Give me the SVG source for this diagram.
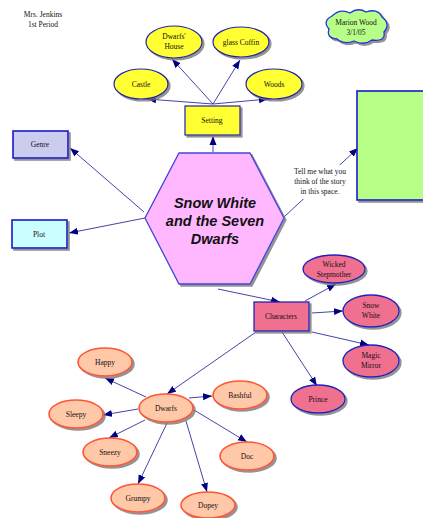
<svg xmlns="http://www.w3.org/2000/svg" width="423" height="518" viewBox="0 0 423 518">
<style>
.t{font-family:"Liberation Serif",serif;font-size:7.5px;fill:#111;text-anchor:middle}
.yel{fill:#ffff33;stroke:#2222aa;stroke-width:1.2}
.pink{fill:#f07090;stroke:#2222bb;stroke-width:1.3}
.org{fill:#ffc8a8;stroke:#ff5533;stroke-width:1.6}
.box{stroke:#1a1acc;stroke-width:1.6}
.c line{stroke:#4444aa;stroke-width:1;marker-end:url(#ah)}
</style>
<defs>
<marker id="ah" markerUnits="userSpaceOnUse" markerWidth="10" markerHeight="8" refX="9" refY="4" orient="auto">
<path d="M0,0.5 L9,4 L0,7.5 Z" fill="#000080"/>
</marker>
<filter id="sd" x="-20%" y="-20%" width="150%" height="150%">
<feDropShadow dx="2" dy="2" stdDeviation="0.7" flood-color="#777" flood-opacity="0.8"/>
</filter>
</defs>
<rect width="423" height="518" fill="#fff"/>
<g id="teacher"><text class="t" x="43" y="17">Mrs. Jenkins</text><text class="t" x="43" y="27">1st Period</text></g>

<g class="c" id="connectors">
<line x1="213" y1="104" x2="147" y2="99"/>
<line x1="213" y1="104" x2="172" y2="59"/>
<line x1="213" y1="104" x2="240" y2="60"/>
<line x1="213" y1="104" x2="268" y2="99"/>
<line x1="213" y1="152" x2="213" y2="136"/>
<line x1="144" y1="212" x2="70" y2="148"/>
<line x1="145" y1="218" x2="69" y2="233"/>
<line x1="284" y1="217" x2="358" y2="148"/>
<line x1="218" y1="289" x2="280" y2="302"/>
<line x1="305" y1="301" x2="336" y2="284"/>
<line x1="312" y1="313" x2="343" y2="311"/>
<line x1="312" y1="332" x2="369" y2="345"/>
<line x1="282" y1="332" x2="317" y2="386"/>
<line x1="256" y1="332" x2="167" y2="394"/>
<line x1="146" y1="397" x2="105" y2="378"/>
<line x1="138" y1="409" x2="103" y2="415"/>
<line x1="145" y1="420" x2="109" y2="438"/>
<line x1="167" y1="423" x2="138" y2="484"/>
<line x1="186" y1="421" x2="207" y2="492"/>
<line x1="194" y1="410" x2="247" y2="442"/>
<line x1="189" y1="398" x2="212" y2="396"/>
</g>

<g id="comment"><rect x="288" y="165" width="64" height="34" fill="#fff"/>
<text class="t" x="320" y="174">Tell me what you</text>
<text class="t" x="320" y="184">think of the story</text>
<text class="t" x="320" y="194">in this space.</text></g>

<g id="marion"><path filter="url(#sd)" d="M332,16 Q340,8 350,13 Q358,7 366,12 Q378,8 382,17 Q391,24 384,32 Q386,42 372,40 Q364,46 354,41 Q344,45 337,39 Q326,38 329,29 Q322,21 332,16 Z" fill="#b8ff88" stroke="#2233dd" stroke-width="1.3"/>
<text class="t" x="356" y="25" font-size="8.5">Marion Wood</text><text class="t" x="356" y="35">3/1/05</text></g>

<g id="castle"><ellipse class="yel" filter="url(#sd)" cx="141" cy="84" rx="27" ry="15"/><text class="t" x="141" y="86.5">Castle</text></g>
<g id="dwarfs-house"><ellipse class="yel" filter="url(#sd)" cx="174" cy="42" rx="28" ry="16"/><text class="t" x="174" y="39">Dwarfs'</text><text class="t" x="174" y="49">House</text></g>
<g id="glass-coffin"><ellipse class="yel" filter="url(#sd)" cx="241" cy="42" rx="28" ry="15"/><text class="t" x="241" y="44.5">glass Coffin</text></g>
<g id="woods"><ellipse class="yel" filter="url(#sd)" cx="274" cy="84" rx="28" ry="15"/><text class="t" x="274" y="86.5">Woods</text></g>
<g id="setting"><rect class="yel" filter="url(#sd)" x="185" y="106" width="55" height="29"/><text class="t" x="212" y="123">Setting</text></g>

<g id="feedback"><rect class="box" filter="url(#sd)" x="357" y="91" width="75" height="109" fill="#b8ff88"/></g>
<g id="genre"><rect class="box" filter="url(#sd)" x="13" y="131" width="55" height="27" fill="#ccccee"/><text class="t" x="40" y="147">Genre</text></g>
<g id="plot"><rect class="box" filter="url(#sd)" x="12" y="220" width="55" height="28" fill="#ccffff"/><text class="t" x="39" y="236.5">Plot</text></g>

<g id="title"><polygon filter="url(#sd)" points="179,153 250,153 284,218 250,284 179,284 145,218" fill="#ffb8ff" stroke="#4444dd" stroke-width="1.3"/>
<g font-family="Liberation Sans,Arial,sans-serif" font-weight="bold" font-style="italic" font-size="14.5" text-anchor="middle" fill="#111">
<text x="215" y="208">Snow White</text><text x="215" y="226">and the Seven</text><text x="215" y="244">Dwarfs</text></g></g>

<g id="characters"><rect class="pink" filter="url(#sd)" x="254" y="302" width="55" height="29"/><text class="t" x="281" y="319">Characters</text></g>
<g id="wicked"><ellipse class="pink" filter="url(#sd)" cx="334" cy="269" rx="31" ry="14"/><text class="t" x="334" y="267">Wicked</text><text class="t" x="334" y="277">Stepmother</text></g>
<g id="snow-white"><ellipse class="pink" filter="url(#sd)" cx="371" cy="311" rx="28" ry="16"/><text class="t" x="371" y="308">Snow</text><text class="t" x="371" y="318">White</text></g>
<g id="magic-mirror"><ellipse class="pink" filter="url(#sd)" cx="371" cy="361" rx="28" ry="16"/><text class="t" x="371" y="358">Magic</text><text class="t" x="371" y="368">Mirror</text></g>
<g id="prince"><ellipse class="pink" filter="url(#sd)" cx="318" cy="399" rx="27" ry="14"/><text class="t" x="318" y="401.5">Prince</text></g>

<g id="dwarfs"><ellipse class="org" filter="url(#sd)" cx="166" cy="408" rx="27" ry="14"/><text class="t" x="166" y="410.5">Dwarfs</text></g>
<g id="happy"><ellipse class="org" filter="url(#sd)" cx="105" cy="362" rx="27" ry="14"/><text class="t" x="105" y="364.5">Happy</text></g>
<g id="sleepy"><ellipse class="org" filter="url(#sd)" cx="76" cy="414" rx="27" ry="14"/><text class="t" x="76" y="416.5">Sleepy</text></g>
<g id="sneezy"><ellipse class="org" filter="url(#sd)" cx="110" cy="452" rx="27" ry="14"/><text class="t" x="110" y="454.5">Sneezy</text></g>
<g id="grumpy"><ellipse class="org" filter="url(#sd)" cx="138" cy="498" rx="27" ry="14"/><text class="t" x="138" y="500.5">Grumpy</text></g>
<g id="dopey"><ellipse class="org" filter="url(#sd)" cx="208" cy="505" rx="27" ry="13"/><text class="t" x="208" y="507.5">Dopey</text></g>
<g id="doc"><ellipse class="org" filter="url(#sd)" cx="247" cy="456" rx="27" ry="14"/><text class="t" x="247" y="458.5">Doc</text></g>
<g id="bashful"><ellipse class="org" filter="url(#sd)" cx="240" cy="395" rx="27" ry="14"/><text class="t" x="240" y="397.5">Bashful</text></g>
</svg>
